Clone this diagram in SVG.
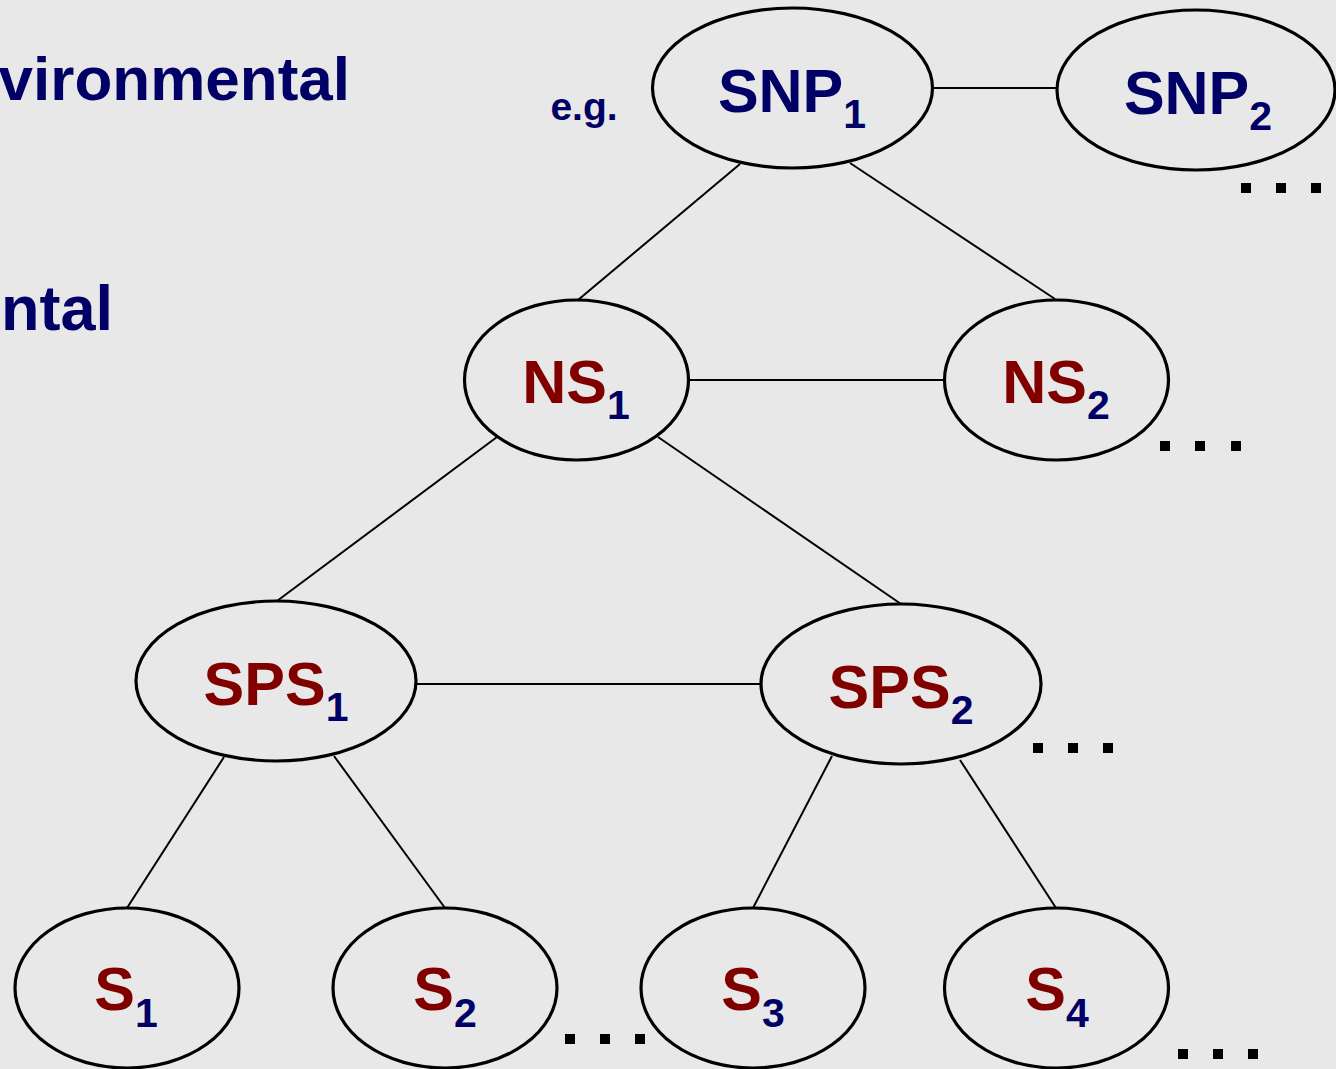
<svg xmlns="http://www.w3.org/2000/svg" width="1336" height="1069" viewBox="0 0 1336 1069">
<style>
.bg{fill:#e8e8e8}
.node ellipse{fill:none;stroke:#000;stroke-width:3.2}
.edges line{stroke:#000;stroke-width:2}
.lbl{font-family:"Liberation Sans",Arial,sans-serif;font-weight:bold;font-size:61px;text-anchor:middle}
.blue{fill:#000066}
.red{fill:#800000}
.sub{font-size:41px;fill:#000066}
.side{font-family:"Liberation Sans",Arial,sans-serif;font-weight:bold;fill:#000066}
.dot{fill:#000}
</style>
<rect class="bg" x="0" y="0" width="1336" height="1069"/>
<text class="side" x="350" y="100" font-size="62" text-anchor="end">vironmental</text>
<text class="side" x="113" y="330" font-size="63" text-anchor="end">ntal</text>
<text class="side" x="584" y="120" font-size="39" text-anchor="middle">e.g.</text>
<g class="edges">
<line x1="933" y1="88" x2="1057" y2="88"/>
<line x1="740" y1="164" x2="578" y2="300"/>
<line x1="850" y1="163" x2="1055" y2="299"/>
<line x1="689" y1="380" x2="945" y2="380"/>
<line x1="497" y1="437" x2="277" y2="601"/>
<line x1="658" y1="437" x2="901" y2="604"/>
<line x1="416" y1="684" x2="761" y2="684"/>
<line x1="224" y1="757" x2="127" y2="908"/>
<line x1="334" y1="756" x2="445" y2="908"/>
<line x1="832" y1="756" x2="753" y2="908"/>
<line x1="960" y1="760" x2="1056" y2="908"/>
</g>
<g id="SNP1" class="node"><ellipse cx="792.5" cy="88" rx="140" ry="80"/><text class="lbl blue" x="792" y="112">SNP<tspan class="sub" dy="16">1</tspan></text></g>
<g id="SNP2" class="node"><ellipse cx="1196" cy="90" rx="139" ry="80"/><text class="lbl blue" x="1198" y="114">SNP<tspan class="sub" dy="16">2</tspan></text></g>
<g id="NS1" class="node"><ellipse cx="576.5" cy="380" rx="112" ry="80"/><text class="lbl red" x="576" y="403">NS<tspan class="sub" dy="16">1</tspan></text></g>
<g id="NS2" class="node"><ellipse cx="1056.5" cy="380" rx="112" ry="80"/><text class="lbl red" x="1056" y="403">NS<tspan class="sub" dy="16">2</tspan></text></g>
<g id="SPS1" class="node"><ellipse cx="276" cy="681" rx="140" ry="80"/><text class="lbl red" x="276" y="705">SPS<tspan class="sub" dy="16">1</tspan></text></g>
<g id="SPS2" class="node"><ellipse cx="901" cy="684" rx="140" ry="80"/><text class="lbl red" x="901" y="708">SPS<tspan class="sub" dy="16">2</tspan></text></g>
<g id="S1" class="node"><ellipse cx="127" cy="988" rx="112" ry="80"/><text class="lbl red" x="126" y="1010">S<tspan class="sub" dy="17">1</tspan></text></g>
<g id="S2" class="node"><ellipse cx="445" cy="988" rx="112" ry="80"/><text class="lbl red" x="445" y="1010">S<tspan class="sub" dy="17">2</tspan></text></g>
<g id="S3" class="node"><ellipse cx="753" cy="988" rx="112" ry="80"/><text class="lbl red" x="753" y="1010">S<tspan class="sub" dy="17">3</tspan></text></g>
<g id="S4" class="node"><ellipse cx="1056.5" cy="988" rx="112" ry="80"/><text class="lbl red" x="1057" y="1010">S<tspan class="sub" dy="17">4</tspan></text></g>
<g id="dots">
<rect class="dot" x="1241" y="183" width="10" height="10"/><rect class="dot" x="1276" y="183" width="10" height="10"/><rect class="dot" x="1311" y="183" width="10" height="10"/>
<rect class="dot" x="1160" y="441" width="10" height="10"/><rect class="dot" x="1195" y="441" width="10" height="10"/><rect class="dot" x="1231" y="441" width="10" height="10"/>
<rect class="dot" x="1033" y="743" width="10" height="10"/><rect class="dot" x="1068" y="743" width="10" height="10"/><rect class="dot" x="1103" y="743" width="10" height="10"/>
<rect class="dot" x="565" y="1034" width="10" height="10"/><rect class="dot" x="600" y="1034" width="10" height="10"/><rect class="dot" x="635" y="1034" width="10" height="10"/>
<rect class="dot" x="1178" y="1049" width="10" height="10"/><rect class="dot" x="1213" y="1049" width="10" height="10"/><rect class="dot" x="1248" y="1049" width="10" height="10"/>
</g>
</svg>
